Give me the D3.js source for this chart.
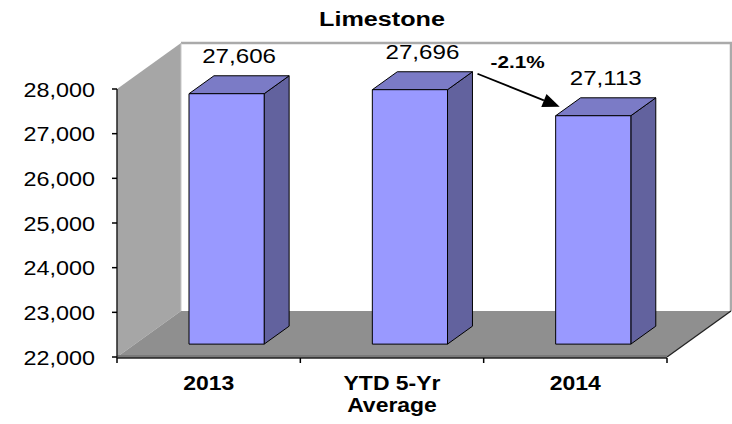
<!DOCTYPE html>
<html>
<head>
<meta charset="utf-8">
<script src="https://cdn.jsdelivr.net/npm/d3@7"></script>
<style>
  html, body { margin: 0; padding: 0; background: #fff; }
  svg { display: block; }
  text { font-family: Arial, "Liberation Sans", sans-serif; fill: #000; }
</style>
</head>
<body>
<svg id="chart" width="732" height="424"></svg>
<script>
// Tonnage summary for limestone
const title = "Limestone";
const categories = ["2013", "YTD 5-Yr Average", "2014"];
const categoryLines = [["2013"], ["YTD 5-Yr", "Average"], ["2014"]];
const values = [27606, 27696, 27113];
const valueLabels = ["27,606", "27,696", "27,113"];
const yTicks = [22000, 23000, 24000, 25000, 26000, 27000, 28000];
const changeLabel = "-2.1%";

const svg = d3.select("#chart");

// Front plane of the 3D box
const x0 = 117, x1 = 667, yTop = 89, yBase = 357;
// Depth vector (front edge -> back wall)
const DX = 64, DY = -46;
// Bar occupies this slice of the depth
const f0 = 0.28, f1 = 0.67;

const x = d3.scaleBand().domain(categories).range([x0, x1])
  .paddingInner(0.59).paddingOuter(0.295);
const y = d3.scaleLinear().domain([22000, 28000]).range([yBase, yTop]);

const poly = pts => pts.map(p => p.join(",")).join(" ");

// Horizontally widened text helper
function label(px, py, str, size, sx, anchor, bold) {
  return svg.append("text")
    .attr("transform", `translate(${px},${py}) scale(${sx},1)`)
    .attr("text-anchor", anchor)
    .attr("font-size", size)
    .attr("font-weight", bold ? "bold" : "normal")
    .text(str);
}

// Back wall
svg.append("rect")
  .attr("x", x0 + DX).attr("y", yTop + DY)
  .attr("width", x1 - x0).attr("height", yBase - yTop)
  .attr("fill", "#fff");
svg.append("path")
  .attr("d", `M${x0 + DX},${yTop + DY} H${x1 + DX} V${yBase + DY}`)
  .attr("fill", "none").attr("stroke", "#aaaaaa").attr("stroke-width", 2.5);

// Left wall
svg.append("polygon")
  .attr("points", poly([[x0, yTop], [x0 + DX, yTop + DY], [x0 + DX, yBase + DY], [x0, yBase]]))
  .attr("fill", "#a6a6a6");
svg.append("line")
  .attr("x1", x0 + DX).attr("x2", x0 + DX)
  .attr("y1", yTop + DY).attr("y2", yBase + DY)
  .attr("stroke", "#c8c8c8").attr("stroke-width", 1);

// Floor
svg.append("polygon")
  .attr("points", poly([[x0, yBase], [x1, yBase], [x1 + DX, yBase + DY], [x0 + DX, yBase + DY]]))
  .attr("fill", "#8f8f8f");
svg.append("line")
  .attr("x1", x1).attr("y1", yBase).attr("x2", x1 + DX).attr("y2", yBase + DY)
  .attr("stroke", "#222").attr("stroke-width", 1.3);
svg.append("rect")
  .attr("x", x0).attr("y", yBase - 2).attr("width", x1 - x0).attr("height", 3)
  .attr("fill", "#7a7a7a");

// Bars
const ddx = (f1 - f0) * DX, ddy = (f1 - f0) * DY;
const bars = svg.append("g");
categories.forEach((c, i) => {
  const bx = x(c) + f0 * DX, by = y(values[i]) + f0 * DY;
  const bw = x.bandwidth(), bb = yBase + f0 * DY;
  const g = bars.append("g").attr("stroke", "#000").attr("stroke-width", 1)
    .attr("stroke-linejoin", "round");
  // side
  g.append("polygon")
    .attr("points", poly([[bx + bw, by], [bx + bw + ddx, by + ddy], [bx + bw + ddx, bb + ddy], [bx + bw, bb]]))
    .attr("fill", "#62629e");
  // top
  g.append("polygon")
    .attr("points", poly([[bx, by], [bx + ddx, by + ddy], [bx + bw + ddx, by + ddy], [bx + bw, by]]))
    .attr("fill", "#7b7bc6");
  // front
  g.append("rect")
    .attr("x", bx).attr("y", by).attr("width", bw).attr("height", bb - by)
    .attr("fill", "#9999ff");

  // value label
  label(bx + bw / 2 + ddx / 2, by + ddy - 13, valueLabels[i], 21, 1.15, "middle", false);
});

// Value axis
svg.append("line")
  .attr("x1", x0).attr("x2", x0).attr("y1", yTop).attr("y2", yBase + 1)
  .attr("stroke", "#222").attr("stroke-width", 1.5);
yTicks.forEach(t => {
  svg.append("line")
    .attr("x1", x0 - 5).attr("x2", x0).attr("y1", y(t)).attr("y2", y(t))
    .attr("stroke", "#000").attr("stroke-width", 1.5);
  label(x0 - 22, y(t) + 7.5, d3.format(",")(t), 20.5, 1.14, "end", false);
});

// Category axis
svg.append("line")
  .attr("x1", x0).attr("x2", x1).attr("y1", yBase + 1).attr("y2", yBase + 1)
  .attr("stroke", "#222").attr("stroke-width", 1.3);
const step = x.step();
[x0, x0 + step, x0 + 2 * step, x1].forEach(t => {
  svg.append("line")
    .attr("x1", t).attr("x2", t).attr("y1", yBase + 1).attr("y2", yBase + 6)
    .attr("stroke", "#000").attr("stroke-width", 1.5);
});
categories.forEach((c, i) => {
  const cx = x(c) + x.bandwidth() / 2;
  categoryLines[i].forEach((ln, j) => {
    label(cx, 390 + j * 22, ln, 20.5, 1.12, "middle", true);
  });
});

// Change arrow between the average and 2014
const sx = x(categories[1]) + f0 * DX + x.bandwidth() + ddx + 5;
const sy = y(values[1]) + f0 * DY + ddy + 2;
const ex = x(categories[2]) + f0 * DX + 4;
const ey = y(values[2]) + f0 * DY - 9;
const ang = Math.atan2(ey - sy, ex - sx);
const headLen = 17, headHalf = 7;
const bxh = ex - headLen * Math.cos(ang), byh = ey - headLen * Math.sin(ang);
svg.append("line")
  .attr("x1", sx).attr("y1", sy).attr("x2", bxh).attr("y2", byh)
  .attr("stroke", "#000").attr("stroke-width", 1.8);
svg.append("polygon")
  .attr("points", poly([
    [ex, ey],
    [bxh + headHalf * Math.sin(ang), byh - headHalf * Math.cos(ang)],
    [bxh - headHalf * Math.sin(ang), byh + headHalf * Math.cos(ang)]
  ]))
  .attr("fill", "#000");
label((sx + ex) / 2 - 1, 68, changeLabel, 17, 1.22, "middle", true);

// Title
label(382, 26, title, 21, 1.2, "middle", true);
</script>
</body>
</html>
